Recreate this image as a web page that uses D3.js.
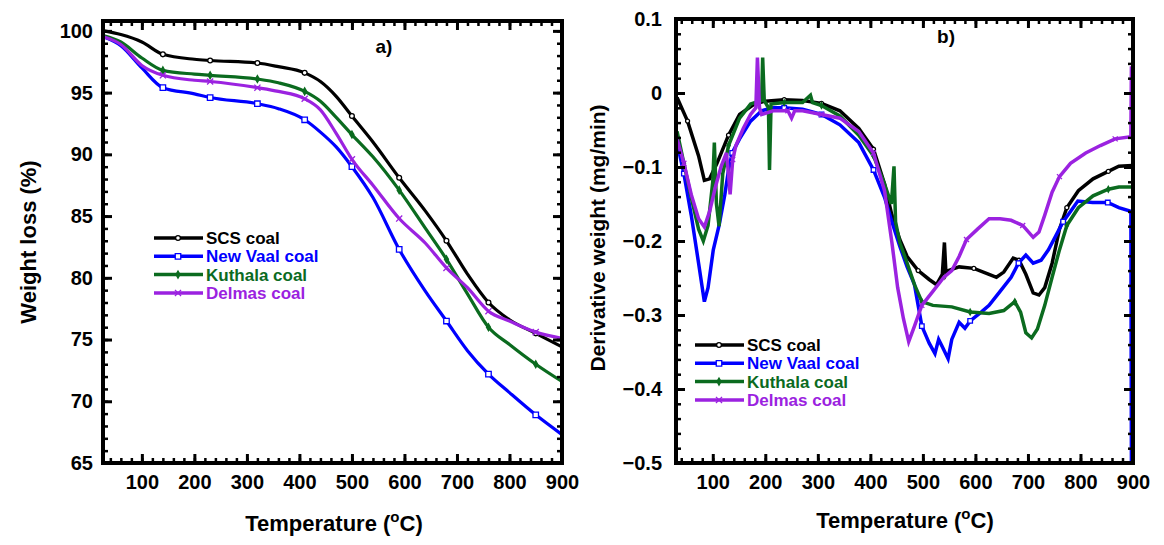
<!DOCTYPE html>
<html>
<head>
<meta charset="utf-8">
<script src="https://cdn.jsdelivr.net/npm/d3@7"></script>
<style>
  body { margin: 0; background: #fff; }
  text { font-family: "Liberation Sans", Arial, sans-serif; font-weight: bold; }
</style>
</head>
<body>
<script>
const coals = ["SCS coal", "New Vaal coal", "Kuthala coal", "Delmas coal"];
const colors = ["#000000", "#0000ff", "#0b6b1f", "#9b22e0"];

// a) TGA, weight loss (%) at common temperatures
const tgaTemp = [28, 60, 100, 140, 200, 230, 320, 360, 410, 440, 470, 500, 540, 590, 640, 680, 720, 760, 800, 850, 900];
const tgaSCS = [100.0, 99.7, 99.1, 98.1, 97.7, 97.6, 97.4, 97.1, 96.6, 95.9, 94.7, 93.1, 91.0, 88.1, 85.4, 83.0, 80.3, 78.0, 76.6, 75.5, 74.4];
const tgaNewVaal = [99.5, 98.8, 97.0, 95.4, 94.9, 94.6, 94.1, 93.7, 92.8, 91.8, 90.6, 89.0, 86.5, 82.3, 78.9, 76.5, 74.1, 72.2, 70.7, 68.9, 67.3];
const tgaKuthala = [99.6, 99.1, 97.8, 96.8, 96.5, 96.4, 96.1, 95.8, 95.1, 94.3, 93.0, 91.6, 89.8, 87.1, 84.0, 81.5, 78.7, 76.0, 74.6, 73.0, 71.6];
const tgaDelmas = [99.5, 98.9, 97.2, 96.4, 96.0, 95.9, 95.4, 95.1, 94.5, 93.6, 91.7, 89.6, 87.5, 84.8, 82.8, 80.8, 79.2, 77.3, 76.5, 75.6, 75.1];
const tgaMarkerTemp = [140, 230, 320, 410, 500, 590, 680, 760, 850];

// b) DTG, derivative weight (mg/min): [temperature, value]
const dtgSCS = [[32,-0.006],[52,-0.038],[73,-0.085],[84,-0.118],[94,-0.116],[108,-0.095],[130,-0.057],[151,-0.029],[179,-0.015],[200,-0.011],[236,-0.009],[271,-0.010],[307,-0.014],[342,-0.024],[378,-0.048],[406,-0.076],[427,-0.123],[441,-0.165],[456,-0.198],[470,-0.221],[491,-0.240],[512,-0.252],[526,-0.259],[537,-0.245],[541,-0.202],[544,-0.245],[548,-0.240],[569,-0.235],[597,-0.237],[626,-0.245],[640,-0.249],[654,-0.242],[672,-0.223],[683,-0.226],[696,-0.245],[710,-0.270],[721,-0.273],[732,-0.263],[746,-0.230],[760,-0.184],[774,-0.155],[796,-0.132],[824,-0.116],[853,-0.106],[873,-0.099],[899,-0.098]];
const dtgNewVaal = [[32,-0.067],[45,-0.109],[59,-0.165],[73,-0.230],[84,-0.282],[91,-0.263],[101,-0.212],[112,-0.179],[123,-0.137],[130,-0.104],[137,-0.081],[151,-0.062],[172,-0.038],[193,-0.024],[215,-0.020],[236,-0.020],[271,-0.022],[307,-0.029],[342,-0.043],[378,-0.067],[406,-0.104],[427,-0.141],[441,-0.174],[456,-0.207],[470,-0.235],[484,-0.259],[491,-0.287],[498,-0.315],[512,-0.338],[523,-0.352],[530,-0.333],[537,-0.343],[548,-0.359],[555,-0.333],[569,-0.310],[580,-0.318],[590,-0.308],[611,-0.296],[626,-0.287],[647,-0.268],[668,-0.249],[682,-0.230],[696,-0.219],[710,-0.230],[725,-0.226],[739,-0.212],[753,-0.193],[767,-0.174],[781,-0.160],[795,-0.146],[823,-0.148],[852,-0.148],[873,-0.155],[896,-0.160],[897,-0.500]];
const dtgKuthala = [[32,-0.052],[45,-0.095],[59,-0.141],[73,-0.184],[82,-0.200],[91,-0.179],[100,-0.120],[103,-0.067],[107,-0.150],[112,-0.180],[119,-0.109],[130,-0.071],[151,-0.034],[172,-0.015],[193,-0.010],[195,0.048],[198,-0.010],[206,-0.020],[208,-0.104],[211,-0.015],[236,-0.013],[271,-0.013],[286,-0.003],[290,-0.013],[307,-0.017],[342,-0.031],[378,-0.057],[406,-0.085],[427,-0.123],[440,-0.150],[445,-0.099],[448,-0.174],[456,-0.202],[470,-0.230],[484,-0.259],[498,-0.282],[519,-0.287],[555,-0.289],[590,-0.296],[626,-0.298],[654,-0.294],[675,-0.282],[686,-0.296],[696,-0.324],[707,-0.331],[718,-0.319],[732,-0.287],[746,-0.249],[760,-0.212],[774,-0.179],[796,-0.155],[824,-0.139],[853,-0.130],[873,-0.127],[899,-0.127]];
const dtgDelmas = [[32,-0.062],[45,-0.095],[59,-0.137],[73,-0.170],[84,-0.181],[94,-0.160],[105,-0.127],[116,-0.099],[126,-0.081],[130,-0.110],[133,-0.137],[138,-0.090],[144,-0.071],[158,-0.048],[172,-0.029],[182,-0.020],[185,0.048],[189,-0.020],[193,-0.029],[215,-0.024],[243,-0.024],[250,-0.034],[256,-0.024],[271,-0.024],[307,-0.029],[342,-0.034],[378,-0.052],[406,-0.081],[427,-0.132],[441,-0.202],[452,-0.263],[463,-0.305],[473,-0.336],[484,-0.315],[498,-0.287],[519,-0.268],[540,-0.249],[555,-0.240],[569,-0.221],[583,-0.198],[604,-0.184],[626,-0.170],[647,-0.170],[668,-0.172],[690,-0.179],[710,-0.195],[721,-0.188],[732,-0.165],[746,-0.134],[760,-0.113],[781,-0.095],[810,-0.081],[838,-0.071],[866,-0.062],[896,-0.059],[897,0.036]];
const dtgMarkerTemp = [50, 140, 230, 320, 410, 500, 590, 680, 770, 860];

const xTicks = [100, 200, 300, 400, 500, 600, 700, 800, 900];
const tgaYTicks = [65, 70, 75, 80, 85, 90, 95, 100];
const dtgYTicks = [-0.5, -0.4, -0.3, -0.2, -0.1, 0, 0.1];

(()=>{
    const width = 1164, height = 545;
    const symbols = [d3.symbolCircle, d3.symbolSquare, d3.symbolDiamond, d3.symbolTimes];

    const svg = d3.create("svg")
        .attr("width", width)
        .attr("height", height)
        .attr("viewBox", [0, 0, width, height]);

    function marker(sel, i, x, y, k){
        const sizes = [18, 30, 14, 26].map(s => s * (k || 1));
        sel.append("path")
            .attr("transform", `translate(${x},${y})`)
            .attr("d", d3.symbol().type(symbols[i]).size(sizes[i])())
            .attr("fill", i === 2 ? colors[i] : (i === 3 ? "none" : "#fff"))
            .attr("stroke", colors[i])
            .attr("stroke-width", 1.3);
    }

    function frame(g, x, y, yTicks, yMinor, yfmt, ypad){
        const [x0, x1] = x.range(), [y0, y1] = y.range();
        const xMin = d3.range(0, 901, 20).filter(v => v >= x.domain()[0]);
        const axes = [
            [d3.axisBottom, `translate(0,${y0})`, x, xTicks, xMin, 12, d3.format("d")],
            [d3.axisTop, `translate(0,${y1})`, x, xTicks, xMin, null, null],
            [d3.axisLeft, `translate(${x0},0)`, y, yTicks, yMinor, ypad, yfmt],
            [d3.axisRight, `translate(${x1},0)`, y, yTicks, yMinor, null, null]
        ];
        axes.forEach(([ax, tr, sc, major, minor, pad, fmt]) => {
            g.append("g").attr("transform", tr)
                .call(ax(sc).tickValues(minor).tickSizeInner(-5).tickSizeOuter(0).tickFormat(""))
                .call(a => a.select(".domain").remove())
                .selectAll("line").attr("stroke-width", 2.5);
            const m = g.append("g").attr("transform", tr)
                .call(ax(sc).tickValues(major).tickSizeInner(-9).tickSizeOuter(0)
                    .tickPadding(pad || 0).tickFormat(pad ? fmt : ""))
                .call(a => a.select(".domain").remove());
            m.selectAll("line").attr("stroke-width", 3);
            m.selectAll("text").attr("font-size", 20).attr("fill", "#000")
                .attr("font-family", "Liberation Sans, Arial, sans-serif").attr("font-weight", "bold");
        });
        g.append("rect")
            .attr("x", x0).attr("y", y1)
            .attr("width", x1 - x0).attr("height", y0 - y1)
            .attr("fill", "none").attr("stroke", "#000").attr("stroke-width", 4);
    }

    function legend(g, lx, ly){
        coals.forEach((c, i) => {
            const yy = ly + i * 18.3;
            g.append("line").attr("x1", lx).attr("x2", lx + 49)
                .attr("y1", yy).attr("y2", yy)
                .attr("stroke", colors[i]).attr("stroke-width", 3.5);
            marker(g, i, lx + 24, yy);
            g.append("text").attr("x", lx + 52).attr("y", yy + 6)
                .attr("font-size", 17).attr("fill", colors[i]).text(c);
        });
    }

    function tempTitle(g, cx, cy){
        const t = g.append("text").attr("x", cx).attr("y", cy)
            .attr("text-anchor", "middle").attr("font-size", 22);
        t.append("tspan").text("Temperature (");
        t.append("tspan").attr("font-size", 15).attr("dy", -9).text("o");
        t.append("tspan").attr("dy", 9).text("C)");
    }

    // ---------- a) TGA ----------
    const xa = d3.scaleLinear().domain([26, 900]).range([103, 562]);
    const ya = d3.scaleLinear().domain([65, 100.8]).range([463, 21]);
    const ga = svg.append("g");
    const tgaSeries = [tgaSCS, tgaNewVaal, tgaKuthala, tgaDelmas];

    const lineA = d3.line().x(d => xa(d[0])).y(d => ya(d[1])).curve(d3.curveMonotoneX);
    tgaSeries.forEach((s, i) => {
        const pts = tgaTemp.map((t, k) => [t, s[k]]);
        ga.append("path").attr("d", lineA(pts))
            .attr("fill", "none").attr("stroke", colors[i]).attr("stroke-width", 3.2);
        pts.filter(p => tgaMarkerTemp.includes(p[0]))
            .forEach(p => marker(ga, i, xa(p[0]), ya(p[1])));
    });
    frame(ga, xa, ya, tgaYTicks, d3.range(65, 101, 1), d3.format("d"), 10);
    legend(ga, 154, 238);
    ga.append("text").attr("x", 384).attr("y", 53).attr("text-anchor", "middle")
        .attr("font-size", 19).text("a)");
    tempTitle(ga, 334, 531);
    ga.append("text").attr("transform", "translate(36,242) rotate(-90)")
        .attr("text-anchor", "middle").attr("font-size", 22).text("Weight loss (%)");

    // ---------- b) DTG ----------
    const xb = d3.scaleLinear().domain([30, 900]).range([676, 1133]);
    const yb = d3.scaleLinear().domain([-0.5, 0.1]).range([463, 19]);
    const gb = svg.append("g");
    const dtgSeries = [dtgSCS, dtgNewVaal, dtgKuthala, dtgDelmas];
    const lineB = d3.line().x(d => xb(d[0])).y(d => yb(d[1]));
    gb.append("defs").append("clipPath").attr("id", "clipb")
        .append("rect").attr("x", 676).attr("y", 19).attr("width", 459).attr("height", 446);
    const plotB = gb.append("g").attr("clip-path", "url(#clipb)");
    dtgSeries.forEach((s, i) => {
        plotB.append("path").attr("d", lineB(s))
            .attr("fill", "none").attr("stroke", colors[i])
            .attr("stroke-width", 3.5).attr("stroke-linejoin", "miter");
        dtgMarkerTemp.forEach(t => {
            const p = d3.least(s, d => Math.abs(d[0] - t));
            marker(plotB, i, xb(p[0]), yb(p[1]), 0.7);
        });
    });
    const fmtB = v => v === 0 ? "0" : d3.format(".1f")(v);
    frame(gb, xb, yb, dtgYTicks, d3.range(-0.5, 0.101, 0.02).map(v => +v.toFixed(2)), fmtB, 14);
    legend(gb, 695, 345);
    gb.append("text").attr("x", 946).attr("y", 43).attr("text-anchor", "middle")
        .attr("font-size", 19).text("b)");
    tempTitle(gb, 905, 528);
    gb.append("text").attr("transform", "translate(605,238) rotate(-90)")
        .attr("text-anchor", "middle").attr("font-size", 21).text("Derivative weight (mg/min)");

    d3.select("body").append(() => svg.node());
})();
</script>
</body>
</html>
